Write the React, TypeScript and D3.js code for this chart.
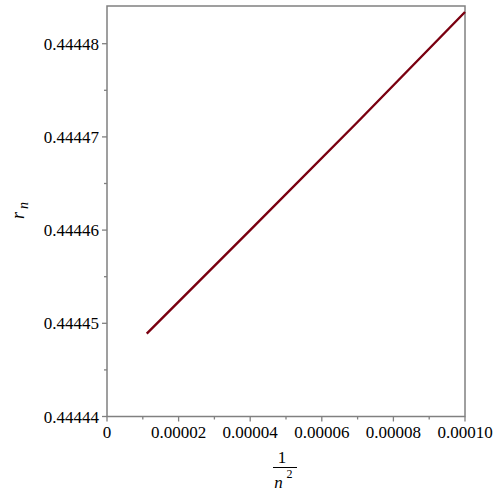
import React from "react";
import * as d3 from "d3";

const xValues = [0.0000111, 0.00004, 0.00007, 0.0001];
const yValues = [0.4444489, 0.44446, 0.4444716, 0.4444834];
const xTicks = [0, 0.00002, 0.00004, 0.00006, 0.00008, 0.0001];
const xTickLabels = ["0", "0.00002", "0.00004", "0.00006", "0.00008", "0.00010"];
const xMinorTicks = [0.00001, 0.00003, 0.00005, 0.00007, 0.00009];
const yTicks = [0.44444, 0.44445, 0.44446, 0.44447, 0.44448];
const yTickLabels = ["0.44444", "0.44445", "0.44446", "0.44447", "0.44448"];
const yMinorTicks = [0.444445, 0.444455, 0.444465, 0.444475];

const FONT = "Liberation Serif";

export default function App() {
  const left = 107, right = 465, top = 6, bottom = 416.5;
  const x = d3.scaleLinear().domain([0, 0.0001]).range([left, right]);
  const y = d3.scaleLinear().domain([0.44444, 0.44445]).range([bottom, bottom - 93.2]);
  const line = d3
    .line<number>()
    .x((_, i) => x(xValues[i]))
    .y((d) => y(d));
  const axisColor = "#808080";
  return (
    <svg width={500} height={500} style={{ position: "absolute", left: 0, top: 0, background: "#fff" }}>
      <rect x={left} y={top} width={right - left} height={bottom - top} fill="none" stroke={axisColor} strokeWidth={1.5} />
      {xTicks.map((t, i) => (
        <g key={"xt" + i}>
          <line x1={x(t)} x2={x(t)} y1={bottom} y2={bottom + 5} stroke={axisColor} strokeWidth={1.3} />
          <text x={x(t)} y={438} fontFamily={FONT} fontSize={17} textAnchor="middle" fill="#000">
            {xTickLabels[i]}
          </text>
        </g>
      ))}
      {xMinorTicks.map((t, i) => (
        <line key={"xm" + i} x1={x(t)} x2={x(t)} y1={bottom} y2={bottom + 3} stroke={axisColor} strokeWidth={1.3} />
      ))}
      {yTicks.map((t, i) => (
        <g key={"yt" + i}>
          <line x1={left - 5} x2={left} y1={y(t)} y2={y(t)} stroke={axisColor} strokeWidth={1.3} />
          <text x={99} y={y(t) + 6} fontFamily={FONT} fontSize={17} textAnchor="end" fill="#000">
            {yTickLabels[i]}
          </text>
        </g>
      ))}
      {yMinorTicks.map((t, i) => (
        <line key={"ym" + i} x1={left - 3} x2={left} y1={y(t)} y2={y(t)} stroke={axisColor} strokeWidth={1.3} />
      ))}
      <path d={line(yValues) || ""} fill="none" stroke="#7a0010" strokeWidth={2.4} />
      <g transform="translate(24,219) rotate(-90)">
        <text x={0} y={0} fontFamily={FONT} fontSize={18} fontStyle="italic" fill="#000">
          r
          <tspan fontSize={14} dx={3} dy={4}>n</tspan>
        </text>
      </g>
      <text x={282} y={463} fontFamily={FONT} fontSize={17} textAnchor="middle" fill="#000">1</text>
      <line x1={273} x2={297} y1={467.5} y2={467.5} stroke="#000" strokeWidth={1} />
      <text x={278.5} y={488} fontFamily={FONT} fontSize={17} fontStyle="italic" textAnchor="middle" fill="#000">n</text>
      <text x={289.5} y={478} fontFamily={FONT} fontSize={12} textAnchor="middle" fill="#000">2</text>
    </svg>
  );
}
